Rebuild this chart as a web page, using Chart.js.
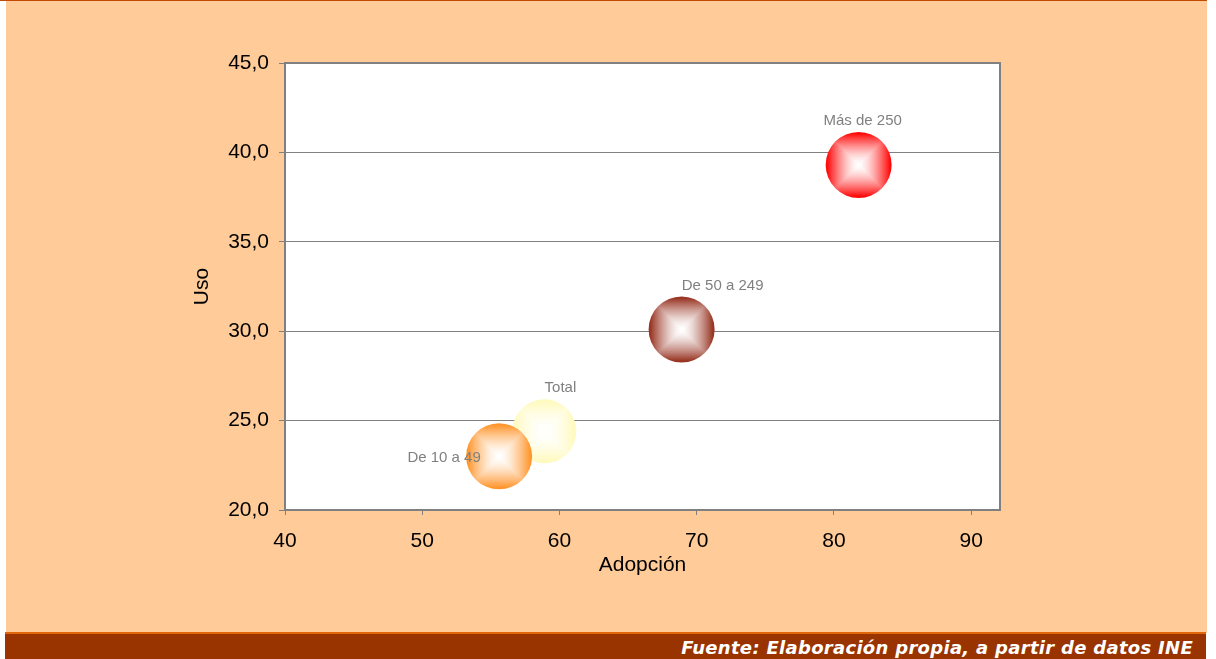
<!DOCTYPE html>
<html>
<head>
<meta charset="utf-8">
<script src="https://cdn.jsdelivr.net/npm/chart.js@4.4.1/dist/chart.umd.min.js"></script>
<style>
  html, body { margin: 0; padding: 0; background: #ffffff; width: 1216px; height: 659px; overflow: hidden; }
  #topline { position: absolute; left: 0; top: 0; width: 1207px; height: 1px; background: #BF4A00; }
  #panel { position: absolute; left: 6px; top: 1px; width: 1201px; height: 632px; background: #FFCC99; }
  #footline { position: absolute; left: 5px; top: 632px; width: 1201px; height: 2px; background: #E0680A; }
  #footer { position: absolute; left: 5px; top: 634px; width: 1201px; height: 25px; background: #993300;
            color: #ffffff; font-family: "DejaVu Sans", Verdana, sans-serif; font-weight: bold; font-style: italic;
            font-size: 18px; line-height: 27px; text-align: right; box-sizing: border-box; padding-right: 13px; letter-spacing: 0.3px; }
  #wrap { position: absolute; left: 0; top: 0; width: 1216px; height: 659px; }
</style>
</head>
<body>
<div id="topline"></div>
<div id="panel"></div>
<div id="footline"></div>
<div id="footer">Fuente: Elaboración propia, a partir de datos INE</div>
<div id="wrap"><canvas id="c" width="1216" height="659"></canvas></div>
<script>
// ---- data ----
const categories = ['Más de 250', 'De 50 a 249', 'Total', 'De 10 a 49'];
const adopcion   = [81.8, 68.9, 58.9, 55.6];
const uso        = [39.3, 30.1, 24.4, 23.0];
const tamano     = [33, 33, 32, 33];
const xTickValues = [40, 50, 60, 70, 80, 90];
const yTickValues = [20, 25, 30, 35, 40, 45];

// ---- styles ----
const edgeColors = [[255, 10, 10], [152, 52, 34], [255, 250, 190], [255, 150, 45]];
const labelOffsets = [[4, -44], [41, -44], [16, -43], [-55, 1]];

const patternCache = {};
function boxPattern(ctx2d, key, cx, cy, r, rgb) {
  const k = key + '_' + Math.round(cx) + '_' + Math.round(cy) + '_' + r;
  if (patternCache[k]) return patternCache[k];
  const size = Math.ceil(2 * r) + 2;
  const off = document.createElement('canvas');
  off.width = size; off.height = size;
  const octx = off.getContext('2d');
  const img = octx.createImageData(size, size);
  const c = size / 2;
  for (let j = 0; j < size; j++) {
    for (let i = 0; i < size; i++) {
      const dx = i + 0.5 - c, dy = j + 0.5 - c;
      let t = Math.max(Math.abs(dx), Math.abs(dy)) / r;
      t = Math.min(1, t / 0.95);
      t = Math.pow(t, 1.5);
      const p = (j * size + i) * 4;
      img.data[p]     = Math.round(255 + (rgb[0] - 255) * t);
      img.data[p + 1] = Math.round(255 + (rgb[1] - 255) * t);
      img.data[p + 2] = Math.round(255 + (rgb[2] - 255) * t);
      img.data[p + 3] = 255;
    }
  }
  octx.putImageData(img, 0, 0);
  const pat = ctx2d.createPattern(off, 'no-repeat');
  pat.setTransform(new DOMMatrix().translate(cx - c, cy - c));
  patternCache[k] = pat;
  return pat;
}

const plotFrame = {
  id: 'plotFrame',
  beforeDraw(chart) {
    const {ctx, chartArea: a} = chart;
    ctx.save();
    ctx.fillStyle = '#ffffff';
    ctx.fillRect(a.left, a.top, a.right - a.left, a.bottom - a.top);
    ctx.restore();
  },
  afterDraw(chart) {
    const {ctx, chartArea: a} = chart;
    ctx.save();
    ctx.strokeStyle = '#808080';
    ctx.lineWidth = 2;
    ctx.beginPath();
    ctx.moveTo(a.left, a.top);
    ctx.lineTo(a.right, a.top);
    ctx.lineTo(a.right, a.bottom);
    ctx.stroke();
    ctx.restore();
  }
};

const pointLabels = {
  id: 'pointLabels',
  afterDatasetsDraw(chart) {
    const {ctx} = chart;
    const meta = chart.getDatasetMeta(0);
    ctx.save();
    ctx.font = '15px "Liberation Sans", Arial, sans-serif';
    ctx.fillStyle = '#808080';
    ctx.textAlign = 'center';
    ctx.textBaseline = 'middle';
    meta.data.forEach((el, i) => {
      const o = labelOffsets[i];
      ctx.fillText(categories[i], el.x + o[0], el.y + o[1]);
    });
    ctx.restore();
  }
};

const fontAxis = { family: '"Liberation Sans", Arial, sans-serif', size: 21 };

new Chart(document.getElementById('c'), {
  type: 'bubble',
  data: {
    datasets: [{
      label: 'Empresas',
      data: categories.map((c, i) => ({ x: adopcion[i], y: uso[i], r: tamano[i] })),
      borderWidth: 0,
      hoverBorderWidth: 0,
      backgroundColor: (ctx) => {
        if (ctx.type !== 'data') return '#cccccc';
        const ch = ctx.chart;
        if (!ch.scales || !ch.scales.x) return '#cccccc';
        const cx = ch.scales.x.getPixelForValue(ctx.raw.x);
        const cy = ch.scales.y.getPixelForValue(ctx.raw.y);
        return boxPattern(ch.ctx, ctx.dataIndex, cx, cy, ctx.raw.r, edgeColors[ctx.dataIndex]);
      }
    }]
  },
  options: {
    responsive: false,
    animation: false,
    events: [],
    layout: { padding: { left: 190, right: 216, top: 63, bottom: 81 } },
    plugins: { legend: { display: false }, tooltip: { enabled: false } },
    scales: {
      x: {
        type: 'linear', min: 40, max: 92.1,
        afterBuildTicks: (s) => { s.ticks = xTickValues.map(v => ({ value: v })); },
        afterFit: (s) => { s.height = 68; },
        grid: { drawOnChartArea: false, drawTicks: true, tickLength: 5, color: '#808080', lineWidth: 1 },
        border: { display: true, color: '#808080', width: 2 },
        ticks: { color: '#000000', font: fontAxis, padding: 14, maxRotation: 0 },
        title: { display: true, text: 'Adopción', color: '#000000', font: fontAxis, padding: 0 }
      },
      y: {
        type: 'linear', min: 20, max: 45,
        afterBuildTicks: (s) => { s.ticks = yTickValues.map(v => ({ value: v })); },
        afterFit: (s) => { s.width = 95; },
        grid: { drawOnChartArea: true, drawTicks: true, tickLength: 6, color: '#808080', lineWidth: 1 },
        border: { display: true, color: '#808080', width: 2 },
        ticks: { color: '#000000', font: fontAxis, padding: 10, callback: (v) => v.toFixed(1).replace('.', ',') },
        title: { display: true, text: 'Uso', color: '#000000', font: fontAxis, padding: 0 }
      }
    }
  },
  plugins: [plotFrame, pointLabels]
});
</script>
</body>
</html>
